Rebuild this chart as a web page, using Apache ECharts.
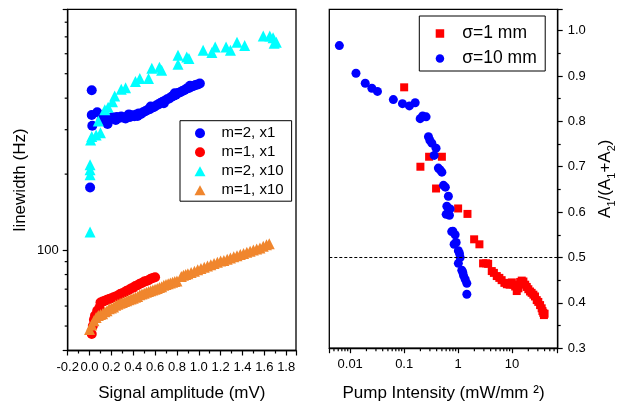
<!DOCTYPE html>
<html><head><meta charset="utf-8">
<script src="https://cdn.jsdelivr.net/npm/echarts@6/dist/echarts.min.js"></script>
<style>html,body{margin:0;padding:0;background:#fff}#c{width:620px;height:407px}</style>
</head><body><div id="c"></div>
<script>
const FONT = "'Liberation Sans', Arial, sans-serif";

// ---- Left panel: linewidth (Hz) vs signal amplitude (mV) ----
const m2x1 = [[0.005,177],[0.02,430],[0.02,343],[0.025,311],[0.07,352],[0.165,316],
  [0.11,328],[0.13,333],[0.15,327],[0.17,333],[0.19,331],[0.21,336],[0.23,333],[0.25,337],[0.27,334],[0.29,338],
  [0.31,335],[0.33,332],[0.35,340],[0.37,337],[0.39,342],[0.41,339],[0.43,345],[0.45,348],[0.47,346],[0.49,352],
  [0.51,355],[0.53,359],[0.55,362],[0.57,367],[0.59,369],[0.61,374],[0.63,378],[0.65,383],[0.67,387],[0.69,391],
  [0.71,396],[0.73,399],[0.75,405],[0.77,409],[0.79,413],[0.81,419],[0.83,422],[0.85,427],[0.87,431],[0.89,437],
  [0.91,439],[0.93,444],[0.95,447],[0.97,451],[0.99,453],[1.01,457],
  [0.24,328],[0.36,345],[0.44,340],[0.56,371],[0.68,382],[0.78,418],[0.92,448]];
const m1x1 = [[0.02,46.5],[0.03,50],[0.04,53],[0.05,55],[0.07,57.5],[0.09,59],[0.10,62],[0.12,62.5],[0.14,63],
  [0.16,63.5],[0.18,64],[0.20,64.5],[0.22,65],[0.24,65.5],[0.26,66],[0.28,67],[0.30,67.5],[0.32,68],[0.34,69],
  [0.36,69.5],[0.38,70.5],[0.40,71],[0.42,72],[0.44,72.5],[0.46,73.5],[0.48,74],[0.50,75],[0.52,75.5],[0.54,76],
  [0.56,77],[0.58,77.5],[0.60,78]];
const m2x10 = [[0.005,118],[0.005,199],[0.005,208],[0.005,218],[0.01,273],[0.02,282],[0.06,286],[0.10,292],
  [0.08,325],[0.14,360],[0.17,368],[0.21,387],[0.23,408],[0.29,434],[0.33,440],[0.42,466],[0.46,479],[0.54,479],
  [0.57,525],[0.64,530],[0.66,516],[0.81,592],[0.81,545],[0.89,582],[0.91,574],[1.04,619],[1.12,607],[1.15,638],
  [1.25,638],[1.29,619],[1.35,667],[1.42,647],[1.59,705],[1.65,705],[1.68,695],[1.71,667],[1.69,660]];
const m1x10 = [[0.00,48.5],[0.02,50.5],[0.04,52.5],[0.06,54],[0.08,55],[0.10,55.5],[0.12,56],[0.14,57],[0.16,57.5],
  [0.18,58.5],[0.20,59],[0.22,59.5],[0.24,60.5],[0.26,61],[0.28,61.5],[0.30,62],[0.32,62.5],[0.34,63],[0.36,63.5],
  [0.38,64],[0.40,64.5],[0.42,65],[0.44,65.5],[0.46,66.5],[0.48,67],[0.50,67.5],[0.52,68],[0.54,68.5],[0.56,69],
  [0.58,69.5],[0.60,70],[0.62,70.5],[0.64,71],[0.66,71.5],[0.68,72.5],[0.70,73],[0.72,73.5],[0.74,74],[0.76,74.5],
  [0.78,75],[0.80,75.5],[0.84,78.5],[0.86,79.5],[0.88,80],[0.90,80.5],[0.93,81.5],[0.96,82.5],[0.99,83.5],
  [1.02,84.5],[1.05,85.5],[1.08,86.5],[1.11,87.5],[1.14,88.5],[1.17,89.5],[1.20,90.5],[1.23,91],[1.26,92],
  [1.29,93],[1.32,94],[1.35,95],[1.38,96],[1.41,97],[1.44,98],[1.47,99],[1.50,100],[1.53,101],[1.56,102],
  [1.59,103.5],[1.62,105],[1.645,106]];

// ---- Right panel: A1/(A1+A2) vs pump intensity (mW/mm^2) ----
const sigma1 = [[0.1,0.875],[0.2,0.700],[0.29,0.722],[0.5,0.722],[0.39,0.652],[1.0,0.608],[1.49,0.596],[1.98,0.540],
  [2.48,0.529],[2.9,0.487],[3.3,0.487],[3.6,0.486],[4.2,0.470],[4.6,0.466],[5.2,0.459],[5.8,0.455],[6.4,0.450],
  [7.2,0.444],[8.0,0.441],[9.0,0.440],[9.9,0.445],[10.6,0.440],[11.4,0.436],[12.2,0.426],[13.1,0.432],[14.1,0.446],
  [15.1,0.449],[16.2,0.447],[17.5,0.440],[18.7,0.435],[20,0.430],[21.5,0.425],[23,0.422],[24.8,0.418],[26.6,0.414],
  [28.6,0.406],[30.6,0.402],[33,0.395],[35.3,0.388],[36.5,0.382],[37.8,0.378],[38.9,0.373],[40,0.376]];
const sigma10 = [[0.0063,0.967],[0.0128,0.906],[0.019,0.884],[0.0252,0.873],[0.032,0.866],[0.063,0.848],[0.093,0.839],
  [0.125,0.834],[0.16,0.841],[0.198,0.806],[0.22,0.812],[0.255,0.810],[0.282,0.766],[0.30,0.758],[0.326,0.752],
  [0.39,0.741],[0.36,0.725],[0.43,0.697],[0.464,0.693],[0.5,0.688],[0.535,0.659],[0.58,0.655],[0.66,0.635],
  [0.618,0.613],[0.711,0.607],[0.60,0.595],[0.69,0.593],[0.798,0.558],[0.76,0.557],[0.88,0.550],[0.843,0.529],
  [0.92,0.533],[1.01,0.515],[1.06,0.509],[1.09,0.500],[1.01,0.487],[1.17,0.472],[1.22,0.467],[1.26,0.460],
  [1.35,0.452],[1.45,0.443],[1.45,0.419]];
const halfLevel = 0.5;

// ---- Tick labels ----
const leftXLabels = ['-0.2','0.0','0.2','0.4','0.6','0.8','1.0','1.2','1.4','1.6','1.8'];
const leftYLabels = ['100'];
const leftYMinor = [50,60,70,80,90,200,300,400,500,600,700,800];
const rightXLabels = ['0.01','0.1','1','10'];
const rightXMinor = [0.005,0.006,0.007,0.008,0.009,0.02,0.03,0.04,0.05,0.06,0.07,0.08,0.09,
  0.2,0.3,0.4,0.5,0.6,0.7,0.8,0.9,2,3,4,5,6,7,8,9,20,30,40,50,60];
const rightYLabels = ['0.3','0.4','0.5','0.6','0.7','0.8','0.9','1.0'];

function pick(labels, v) {
  const s = labels.find(l => Math.abs(parseFloat(l) - v) <= 1e-6 * Math.max(1, Math.abs(v)));
  return s === undefined ? '' : s;
}
const axisLineStyle = {color:'#000', width:1.3};
const tickLine = {color:'#000', width:1.2};
const labelStyle = {color:'#000', fontSize:13, fontFamily:FONT};
const nameStyle = {color:'#000', fontSize:17, fontFamily:FONT};

function tickSeries(xi, yi, ticks, axis, anchor, len) {
  return {
    type:'custom', xAxisIndex:xi, yAxisIndex:yi, silent:true, clip:false, z:10,
    data: ticks.map(v => axis === 'x' ? [v, anchor] : [anchor, v]),
    renderItem: (params, api) => {
      const p = api.coord([api.value(0), api.value(1)]);
      const e = axis === 'x' ? [p[0], p[1] + len] : [p[0] + len, p[1]];
      return {type:'line', shape:{x1:p[0], y1:p[1], x2:e[0], y2:e[1]}, style:{stroke:'#000', lineWidth:1.2}};
    }
  };
}

const chart = echarts.init(document.getElementById('c'), null, {renderer:'canvas'});
chart.setOption({
  animation:false,
  backgroundColor:'#fff',
  textStyle:{fontFamily:FONT},
  grid:[
    {left:67.7, top:9.3, right:324, bottom:56, show:true, borderColor:'#000', borderWidth:1.3, backgroundColor:'transparent'},
    {left:329.3, top:9.3, right:62.3, bottom:55.3, show:true, borderColor:'#000', borderWidth:1.3, backgroundColor:'transparent'}
  ],
  xAxis:[
    {type:'value', gridIndex:0, min:-0.2, max:1.89, interval:0.2, position:'bottom',
     axisLine:{show:true, onZero:false, lineStyle:axisLineStyle},
     axisTick:{show:true, length:5, lineStyle:tickLine},
     minorTick:{show:true, splitNumber:2, length:3, lineStyle:tickLine},
     axisLabel:Object.assign({margin:10, showMaxLabel:false, formatter:v => pick(leftXLabels, v)}, labelStyle),
     splitLine:{show:false},
     name:'Signal amplitude (mV)', nameLocation:'middle', nameGap:34.5, nameTextStyle:nameStyle},
    {type:'log', gridIndex:1, logBase:10, min:0.0041, max:70, position:'bottom',
     axisLine:{show:true, onZero:false, lineStyle:axisLineStyle},
     axisTick:{show:true, length:5, lineStyle:tickLine},
     axisLabel:Object.assign({margin:10, formatter:v => pick(rightXLabels, v)}, labelStyle),
     splitLine:{show:false},
     name:'Pump Intensity (mW/mm ²)', nameLocation:'middle', nameGap:36.8, nameTextStyle:nameStyle}
  ],
  yAxis:[
    {type:'log', gridIndex:0, logBase:10, min:40, max:900, position:'left',
     axisLine:{show:true, onZero:false, lineStyle:axisLineStyle},
     axisTick:{show:true, length:5, lineStyle:tickLine},
     axisLabel:Object.assign({margin:9, formatter:v => pick(leftYLabels, v)}, labelStyle),
     splitLine:{show:false},
     name:'linewidth (Hz)', nameLocation:'middle', nameGap:39, nameRotate:90, nameTextStyle:nameStyle},
    {type:'value', gridIndex:1, min:0.3, max:1.047, interval:0.1, position:'right',
     axisLine:{show:true, onZero:false, lineStyle:axisLineStyle},
     axisTick:{show:true, length:5, lineStyle:tickLine},
     minorTick:{show:true, splitNumber:2, length:3, lineStyle:tickLine},
     axisLabel:Object.assign({margin:10, showMaxLabel:false, formatter:v => pick(rightYLabels, v)}, labelStyle),
     splitLine:{show:false},
     name:'{a|A}{s|1}{a|/(A}{s|1}{a|+A}{s|2}{a|)}', nameLocation:'middle', nameGap:36, nameRotate:90,
     nameTextStyle:{color:'#000', fontFamily:FONT, rich:{
       a:{fontSize:17, lineHeight:24, color:'#000', fontFamily:FONT},
       s:{fontSize:11, lineHeight:11, verticalAlign:'bottom', color:'#000', fontFamily:FONT}}}}
  ],
  legend:[
    {data:['m=2, x1','m=1, x1','m=2, x10','m=1, x10'], orient:'vertical', left:180, top:120.7,
     itemWidth:11, itemHeight:10, itemGap:4, padding:[5,8,3.5,14.5], borderColor:'#000', borderWidth:1,
     backgroundColor:'#fff', selectedMode:false,
     textStyle:{color:'#000', fontSize:15, fontFamily:FONT, padding:[0,0,0,11]}},
    {data:['σ=1 mm','σ=10 mm'], orient:'vertical', left:419.3, top:16,
     itemWidth:8.5, itemHeight:8.5, itemGap:7, padding:[8.5,8.5,3.5,16.4], borderColor:'#000', borderWidth:1,
     backgroundColor:'#fff', selectedMode:false,
     textStyle:{color:'#000', fontSize:17.5, fontFamily:FONT, padding:[0,0,0,13]}}
  ],
  series:[
    {name:'m=2, x1', type:'scatter', xAxisIndex:0, yAxisIndex:0, data:m2x1, symbol:'circle', symbolSize:10, itemStyle:{color:'#0000FF', opacity:1}},
    {name:'m=1, x1', type:'scatter', xAxisIndex:0, yAxisIndex:0, data:m1x1, symbol:'circle', symbolSize:10, itemStyle:{color:'#FF0000', opacity:1}},
    {name:'m=2, x10', type:'scatter', xAxisIndex:0, yAxisIndex:0, data:m2x10, symbol:'triangle', symbolSize:11, itemStyle:{color:'#00FFFF', opacity:1}},
    {name:'m=1, x10', type:'scatter', xAxisIndex:0, yAxisIndex:0, data:m1x10, symbol:'triangle', symbolSize:11, itemStyle:{color:'#F0862E', opacity:1}},
    {name:'σ=1 mm', type:'scatter', xAxisIndex:1, yAxisIndex:1, data:sigma1, symbol:'rect', symbolSize:8, itemStyle:{color:'#FF0000', opacity:1},
     markLine:{silent:true, symbol:['none','none'], label:{show:false}, animation:false,
       lineStyle:{color:'#000', type:[3,2], width:1}, data:[{yAxis:halfLevel}]}},
    {name:'σ=10 mm', type:'scatter', xAxisIndex:1, yAxisIndex:1, data:sigma10, symbol:'circle', symbolSize:9, itemStyle:{color:'#0000FF', opacity:1}},
    tickSeries(0, 0, leftYMinor, 'y', -0.2, -3),
    tickSeries(1, 1, rightXMinor, 'x', 0.3, 3)
  ]
});
</script></body></html>
